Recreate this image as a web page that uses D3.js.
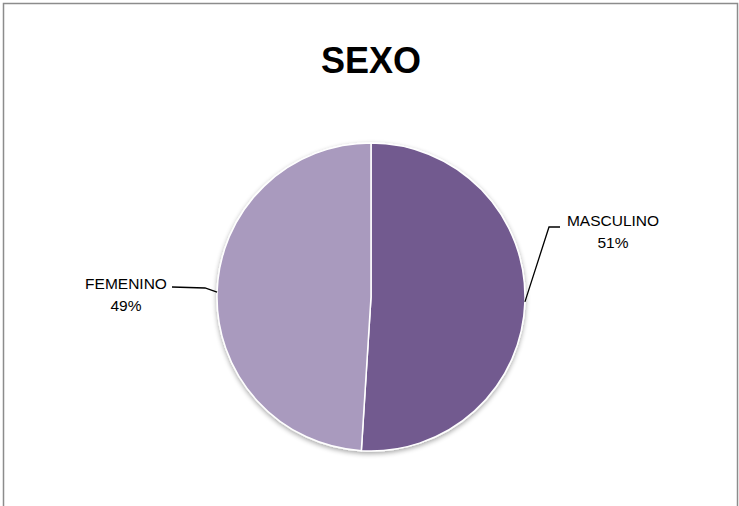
<!DOCTYPE html>
<html>
<head>
<meta charset="utf-8">
<script src="https://cdn.jsdelivr.net/npm/d3@7"></script>
<style>
  body { margin: 0; background: #fff; }
  svg { display: block; font-family: "Liberation Sans", Arial, sans-serif; }
</style>
</head>
<body>
<script>
// datos del grafico
var categories = ['MASCULINO', 'FEMENINO'];
var values = [51, 49];
var colors = ['#725A8F', '#A99ABE'];

var width = 739, height = 506;
var cx = 371, cy = 297, radius = 154;

var svg = d3.select(document.body)
    .append('svg')
    .attr('width', width)
    .attr('height', height);

// marco
svg.append('rect')
    .attr('x', 3.5).attr('y', 3.5)
    .attr('width', 734).attr('height', 520)
    .attr('fill', 'none')
    .attr('stroke', '#8c8c8c')
    .attr('stroke-width', 1.5);

// titulo
svg.append('text')
    .attr('x', cx).attr('y', 73)
    .attr('text-anchor', 'middle')
    .style('font-size', '36px')
    .style('font-weight', 'bold')
    .text('SEXO');

var defs = svg.append('defs');
var filt = defs.append('filter').attr('id', 'sombra')
    .attr('x', '-20%').attr('y', '-20%').attr('width', '140%').attr('height', '140%');
filt.append('feGaussianBlur').attr('in', 'SourceAlpha').attr('stdDeviation', 2.5);
filt.append('feOffset').attr('dx', 0).attr('dy', 2).attr('result', 'b');
filt.append('feComponentTransfer').append('feFuncA').attr('type', 'linear').attr('slope', 0.35);
var merge = filt.append('feMerge');
merge.append('feMergeNode');
merge.append('feMergeNode').attr('in', 'SourceGraphic');

var data = categories.map(function(c, i){ return {name: c, value: values[i], color: colors[i]}; });

var pie = d3.pie().sort(null).value(function(d){ return d.value; });
var arc = d3.arc().innerRadius(0).outerRadius(radius);
var arcs = pie(data);

var g = svg.append('g').attr('transform', 'translate(' + cx + ',' + cy + ')');

g.append('g').attr('filter', 'url(#sombra)')
    .selectAll('path').data(arcs).enter()
    .append('path')
    .attr('d', arc)
    .attr('fill', function(d){ return d.data.color; })
    .attr('stroke', '#fff')
    .attr('stroke-width', 1.5);

// etiquetas con lineas guia
var total = d3.sum(values);
var labelPos = [
    {tx: 613, ty: 226, elbow: [549, 227], end: [560, 227]},
    {tx: 126, ty: 289, elbow: [205, 288], end: [172, 287]}
];

arcs.forEach(function(d, i){
    var mid = (d.startAngle + d.endAngle) / 2;
    var p = labelPos[i];
    var edge = [Math.sin(mid) * radius + cx, -Math.cos(mid) * radius + cy];
    svg.append('polyline')
        .attr('points', [edge, p.elbow, p.end].map(function(q){ return q.join(','); }).join(' '))
        .attr('fill', 'none')
        .attr('stroke', '#000')
        .attr('stroke-width', 1.3);
    var t = svg.append('text')
        .attr('text-anchor', 'middle')
        .style('font-size', '15.5px')
        .attr('fill', '#000');
    t.append('tspan').attr('x', p.tx).attr('y', p.ty).text(d.data.name);
    t.append('tspan').attr('x', p.tx).attr('y', p.ty + 22)
        .text(Math.round(d.data.value / total * 100) + '%');
});
</script>
</body>
</html>
